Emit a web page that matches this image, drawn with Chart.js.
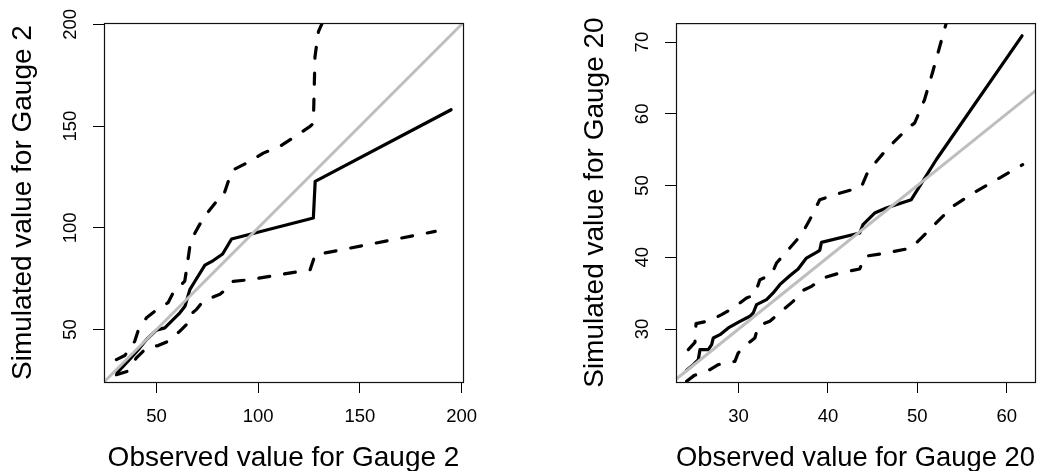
<!DOCTYPE html>
<html>
<head>
<meta charset="utf-8">
<script src="https://cdn.jsdelivr.net/npm/chart.js@4.4.1/dist/chart.umd.min.js"></script>
<style>
  html, body { margin: 0; padding: 0; background: #fff; }
  #wrap { position: relative; width: 1042px; height: 471px; }
  .panel { position: absolute; top: 0; width: 521px; height: 471px; }
</style>
</head>
<body>
<div id="wrap">
  <div class="panel" style="left:0"><canvas id="gauge2" width="521" height="471"></canvas></div>
  <div class="panel" style="left:521px"><canvas id="gauge20" width="521" height="471"></canvas></div>
</div>
<script>
// Gauge 2: median and bounds (observed x, simulated y)
const g2MedX = [30.6, 36.0, 41.8, 45.1, 50.0, 54.1, 57.4, 61.5, 64.0, 66.4, 68.9, 73.8, 77.9, 82.5, 86.9, 127.1, 128.0, 194.8];
const g2MedY = [28.7, 34.4, 41.0, 45.1, 49.7, 50.8, 54.1, 58.2, 61.4, 69.6, 73.7, 81.6, 83.9, 87.1, 94.5, 104.8, 122.8, 158.0];
const g2UpX = [30.3, 34.4, 39.3, 40.9, 45.1, 49.2, 55.7, 58.2, 63.9, 64.8, 66.4, 68.9, 73.0, 79.5, 82.8, 86.1, 87.7, 94.3, 102.5, 110.7, 125.5, 127.1, 127.9, 129.6, 132.1];
const g2UpY = [35.2, 37.2, 44.2, 49.2, 55.8, 59.0, 63.2, 68.1, 73.8, 79.6, 90.9, 97.4, 104.8, 113.0, 115.4, 125.2, 128.5, 131.8, 136.7, 140.0, 149.8, 151.4, 184.1, 196.4, 202.1];
const g2LoX = [30.3, 35.5, 40.1, 43.4, 46.0, 50.8, 55.7, 61.5, 64.8, 65.6, 69.7, 73.0, 81.2, 85.3, 87.7, 96.0, 125.5, 128.0, 137.0, 187.0];
const g2LoY = [27.8, 29.4, 36.0, 39.3, 41.5, 42.1, 44.2, 49.2, 52.5, 56.5, 59.9, 64.0, 67.3, 70.6, 73.7, 74.5, 79.4, 86.8, 88.4, 98.2];
const g2Ticks = [50, 100, 150, 200];

// Gauge 20
const g20MedX = [24.19, 24.94, 25.50, 25.68, 26.61, 26.99, 27.17, 27.92, 28.85, 30.15, 31.27, 31.64, 32.01, 33.13, 33.87, 34.61, 35.73, 36.66, 37.59, 38.71, 39.08, 39.27, 43.55, 43.92, 45.22, 46.52, 49.32, 52.11, 61.71];
const g20MedY = [24.25, 25.04, 25.74, 27.13, 27.13, 27.83, 28.76, 29.22, 30.15, 31.08, 31.78, 32.24, 33.40, 34.10, 35.03, 36.19, 37.44, 38.37, 39.90, 40.69, 40.97, 42.09, 43.39, 44.55, 46.17, 46.87, 48.03, 53.60, 70.88];
const g20UpX = [24.38, 25.12, 25.24, 26.80, 28.10, 29.40, 30.89, 31.82, 32.38, 33.68, 34.24, 35.73, 37.03, 37.96, 39.08, 40.76, 43.73, 44.48, 46.52, 48.94, 49.69, 50.80, 51.73, 52.66, 53.33];
const g20UpY = [27.13, 28.15, 30.75, 31.17, 32.01, 32.94, 34.33, 34.79, 36.88, 37.58, 39.20, 41.30, 43.15, 45.24, 48.03, 48.73, 49.80, 51.98, 55.00, 58.02, 58.71, 61.96, 65.91, 70.09, 73.11];
const g20LoX = [24.19, 25.01, 26.80, 27.73, 29.59, 29.96, 30.89, 31.82, 32.20, 33.50, 34.99, 36.10, 37.22, 38.15, 39.45, 41.31, 43.55, 44.10, 46.52, 49.32, 50.62, 51.73, 53.97, 56.57, 59.18, 61.78];
const g20LoY = [22.72, 23.51, 24.34, 25.04, 25.50, 26.67, 27.83, 28.76, 30.47, 31.08, 32.70, 33.86, 35.40, 35.95, 37.11, 37.81, 38.37, 40.13, 40.60, 41.30, 42.92, 44.32, 47.10, 49.19, 51.05, 52.91];
const g20XTicks = [30, 40, 50, 60];
const g20YTicks = [30, 40, 50, 60, 70];

// 1:1 reference line
const oneToOne = [0, 300];

const FONT = "'Liberation Sans', Arial, Helvetica, sans-serif";

function pts(xs, ys) {
    return xs.map((x, i) => ({ x: x, y: ys[i] }));
}

// draws the box round the plot region, like R's box()
const boxPlugin = {
    id: 'box',
    afterDraw(chart) {
        const a = chart.chartArea;
        const c = chart.ctx;
        c.save();
        c.strokeStyle = '#111';
        c.lineWidth = 1.2;
        c.strokeRect(a.left + 0.5, a.top + 0.5, a.right - a.left, a.bottom - a.top);
        c.restore();
    }
};

function makePanel(id, p) {
    const line = (data, dash) => ({
        data: data,
        borderColor: '#000',
        borderWidth: 3.2,
        borderDash: dash,
        borderCapStyle: 'round',
        borderJoinStyle: 'round',
        pointRadius: 0,
        tension: 0,
        clip: 0
    });

    const datasets = [
        {
            data: pts(oneToOne, oneToOne),
            borderColor: '#bebebe',
            borderWidth: 3,
            pointRadius: 0,
            clip: 0
        },
        line(pts(p.medX, p.medY), []),
        line(pts(p.upX, p.upY), [11, 15]),
        line(pts(p.loX, p.loY), [11, 15])
    ];

    return new Chart(document.getElementById(id), {
        type: 'line',
        data: { datasets: datasets },
        options: {
            responsive: false,
            animation: false,
            layout: { padding: { left: 0, right: p.padRight, top: 23, bottom: 0 } },
            plugins: { legend: { display: false }, tooltip: { enabled: false } },
            scales: {
                x: {
                    type: 'linear',
                    min: p.xMin,
                    max: p.xMax,
                    afterBuildTicks: s => { s.ticks = p.xTicks.map(v => ({ value: v })); },
                    afterFit: s => { s.height = 89; },
                    border: { display: false },
                    grid: { drawOnChartArea: false, drawTicks: true, tickLength: 11, color: '#000', lineWidth: 1 },
                    ticks: {
                        color: '#000',
                        padding: 13,
                        maxRotation: 0,
                        font: { family: FONT, size: 18.5 }
                    },
                    title: {
                        display: true,
                        text: p.xTitle,
                        color: '#000',
                        font: { family: FONT, size: 28, lineHeight: 0.93 },
                        padding: { top: 0, bottom: 0 }
                    }
                },
                y: {
                    type: 'linear',
                    min: p.yMin,
                    max: p.yMax,
                    afterBuildTicks: s => { s.ticks = p.yTicks.map(v => ({ value: v })); },
                    afterFit: s => { s.width = p.plotLeft; },
                    border: { display: false },
                    grid: { drawOnChartArea: false, drawTicks: true, tickLength: 11, color: '#000', lineWidth: 1 },
                    ticks: {
                        color: '#000',
                        padding: p.yTickPad,
                        minRotation: 90,
                        maxRotation: 90,
                        crossAlign: 'center',
                        font: { family: FONT, size: 18.5 }
                    },
                    title: {
                        display: true,
                        text: p.yTitle,
                        color: '#000',
                        font: { family: FONT, size: 28, lineHeight: 0.93 },
                        padding: { top: p.yTitlePad, bottom: 0 }
                    }
                }
            }
        },
        plugins: [boxPlugin]
    });
}

makePanel('gauge2', {
    medX: g2MedX, medY: g2MedY, upX: g2UpX, upY: g2UpY, loX: g2LoX, loY: g2LoY,
    xMin: 24.2, xMax: 200.65, yMin: 24.2, yMax: 200.65,
    xTicks: g2Ticks, yTicks: g2Ticks,
    xTitle: 'Observed value for Gauge 2',
    yTitle: 'Simulated value for Gauge 2',
    plotLeft: 104, padRight: 58, yTitlePad: 10, yTickPad: 7
});

makePanel('gauge20', {
    medX: g20MedX, medY: g20MedY, upX: g20UpX, upY: g20UpY, loX: g20LoX, loY: g20LoY,
    xMin: 23.0, xMax: 63.16, yMin: 22.62, yMax: 72.65,
    xTicks: g20XTicks, yTicks: g20YTicks,
    xTitle: 'Observed value for Gauge 20',
    yTitle: 'Simulated value for Gauge 20',
    plotLeft: 155, padRight: 7, yTitlePad: 61, yTickPad: 12
});
</script>
</body>
</html>
